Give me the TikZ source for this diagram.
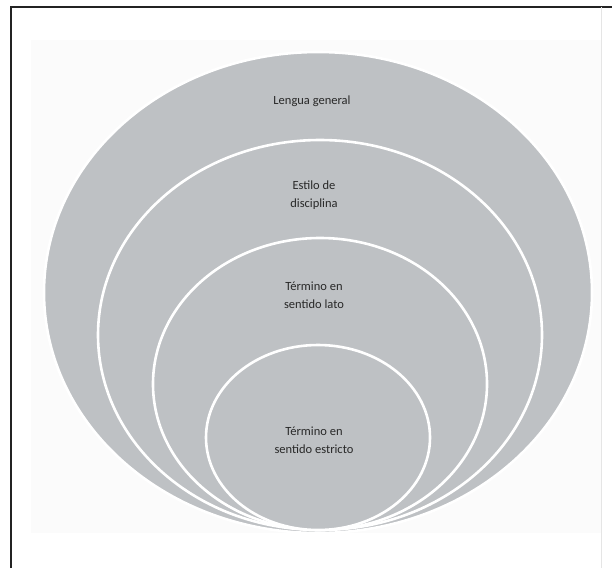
\documentclass[tikz,border=0pt]{standalone}
\usepackage{fontspec}
\setmainfont{Carlito}
\definecolor{ringfill}{RGB}{190,193,196}
\definecolor{txt}{RGB}{40,40,40}
\definecolor{framec}{RGB}{35,35,35}
\begin{document}
\begin{tikzpicture}[x=1pt,y=-1pt,
  ring/.style={fill=ringfill,draw=white,line width=2.6pt},
  lbl/.style={text=txt,font=\fontsize{12.5}{18}\selectfont,align=center,inner sep=0pt}]
\useasboundingbox (0,0) rectangle (612,568);
\fill[white] (0,0) rectangle (612,568);
\fill[black!1.5] (31,40) rectangle (601,533);
\draw[framec,line width=2pt] (11,568) -- (11,7) -- (612,7);
\draw[black!10,line width=1pt] (601,7) -- (601,568);
% rings, outer to inner
\draw[ring] (318,292.5) ellipse [x radius=274,y radius=240.5];
\draw[ring] (320,335) ellipse [x radius=222,y radius=195];
\draw[ring] (320,384) ellipse [x radius=167,y radius=146];
\draw[ring] (318,437.5) ellipse [x radius=112,y radius=92.5];
% labels
\node[lbl] (general) at (312,101) {Lengua general};
\node[lbl] (estilo) at (314,195) {Estilo de\\disciplina};
\node[lbl] (lato) at (314,295) {Término en\\sentido lato};
\node[lbl] (estricto) at (314,440) {Término en\\sentido estricto};
\end{tikzpicture}
\end{document}
